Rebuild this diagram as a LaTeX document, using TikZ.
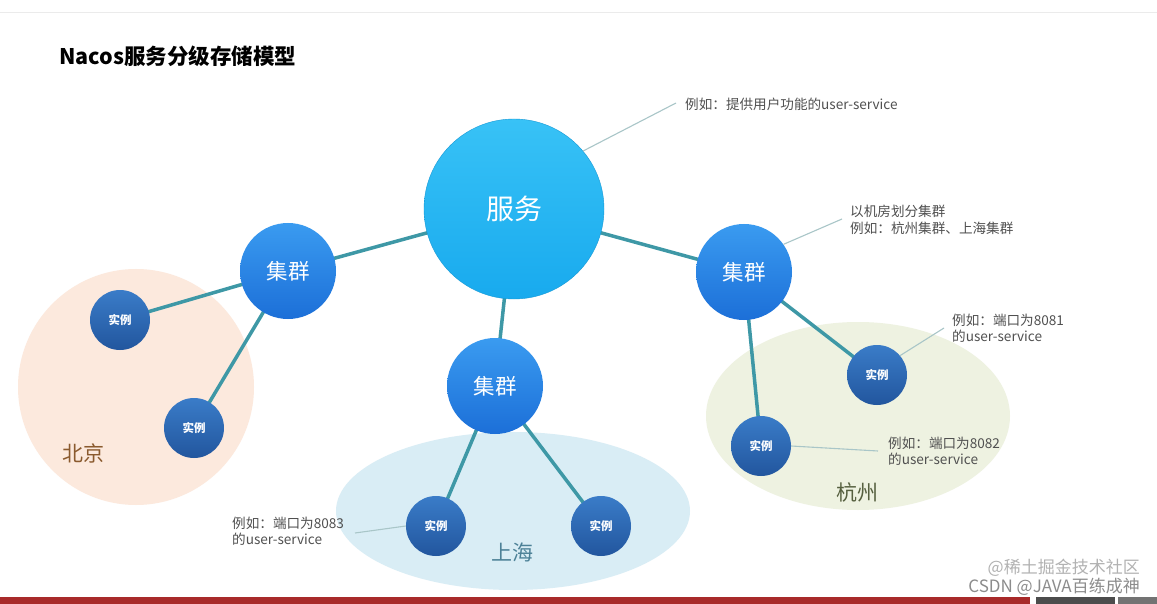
\documentclass[tikz,border=0pt]{standalone}
\usepackage{fontspec}
\setmainfont{Noto Sans CJK SC}
\pgfdeclarelayer{back}
\pgfdeclarelayer{edges}
\pgfsetlayers{back,edges,main}
\definecolor{svcA}{HTML}{38C2F6}
\definecolor{svcB}{HTML}{18AAEE}
\definecolor{cluA}{HTML}{3A9BF0}
\definecolor{cluB}{HTML}{1C6FD8}
\definecolor{insA}{HTML}{3A7CC8}
\definecolor{insB}{HTML}{22569E}
\definecolor{link}{HTML}{3E98A6}
\definecolor{note}{HTML}{A9C6C8}
\definecolor{notetext}{HTML}{505050}
\definecolor{bjfill}{HTML}{FCE9DD}
\definecolor{shfill}{HTML}{D9EDF5}
\definecolor{hzfill}{HTML}{EEF2E1}
\definecolor{bjtext}{HTML}{8A5A2E}
\definecolor{shtext}{HTML}{4C8197}
\definecolor{hztext}{HTML}{56603F}
\definecolor{barred}{HTML}{A82A2A}
\tikzset{
  svc/.style={circle, minimum size=180pt, inner sep=0pt, top color=svcA, bottom color=svcB, draw=svcB!90!black, line width=0.4pt, text=white, font=\fontsize{28}{30}\selectfont},
  clu/.style={circle, minimum size=96pt, inner sep=0pt, top color=cluA, bottom color=cluB, text=white, font=\fontsize{21.5}{23}\selectfont},
  ins/.style={circle, minimum size=60pt, inner sep=0pt, top color=insA, bottom color=insB, text=white, font=\bfseries\fontsize{11.5}{13}\selectfont},
  conn/.style={draw=link, line width=3.5pt},
  noteline/.style={draw=note, line width=1.1pt},
  notetxt/.style={anchor=west, align=left, text=notetext, inner sep=0pt, font=\fontsize{13.6}{16.5}\selectfont},
  region/.style={font=\fontsize{21}{23}\selectfont, inner sep=0pt}
}
\begin{document}
\begin{tikzpicture}[x=1pt,y=-1pt]
\useasboundingbox (0,0) rectangle (1157,604);
\begin{pgfonlayer}{back}
\fill[white] (0,0) rectangle (1157,604);
\draw[black!8, line width=1pt] (0,13) -- (1157,13);
\fill[bjfill] (136,387) circle (118);
\fill[shfill] (513,511) ellipse (177 and 79);
\fill[hzfill] (858,416) ellipse (152 and 94);
\end{pgfonlayer}
% title
\node[anchor=west, inner sep=0pt, font=\bfseries\fontsize{21.5}{23}\selectfont] (title) at (59,56) {Nacos服务分级存储模型};
% region labels
\node[region, text=bjtext] (bj) at (83,453) {北京};
\node[region, text=shtext] (sh) at (512,552) {上海};
\node[region, text=hztext] (hz) at (857,492) {杭州};
% nodes
\node[svc] (s) at (514,209) {服务};
\node[clu] (c1) at (288,271) {集群};
\node[clu] (c2) at (495,386) {集群};
\node[clu] (c3) at (744,272) {集群};
\node[ins] (i1) at (120,320) {实例};
\node[ins] (i2) at (194,428) {实例};
\node[ins] (i3) at (436,526) {实例};
\node[ins] (i4) at (601,526) {实例};
\node[ins] (i5) at (877,375) {实例};
\node[ins] (i6) at (761,446) {实例};
% connectors
\begin{pgfonlayer}{edges}
\draw[conn] (s.center) -- (c1.center);
\draw[conn] (s.center) -- (c2.center);
\draw[conn] (s.center) -- (c3.center);
\draw[conn] (c1.center) -- (i1.center);
\draw[conn] (c1.center) -- (i2.center);
\draw[conn] (c2.center) -- (i3.center);
\draw[conn] (c2.center) -- (i4.center);
\draw[conn] (c3.center) -- (i5.center);
\draw[conn] (c3.center) -- (i6.center);
\end{pgfonlayer}
% annotations
\node[notetxt] (n1) at (685,104) {例如：提供用户功能的user-service};
\node[notetxt] (n2) at (850,220) {以机房划分集群\\例如：杭州集群、上海集群};
\node[notetxt] (n3) at (952,328) {例如：端口为8081\\的user-service};
\node[notetxt] (n4) at (888,451) {例如：端口为8082\\的user-service};
\node[notetxt] (n5) at (232,531) {例如：端口为8083\\的user-service};
\coordinate (a1) at (676,103);
\coordinate (a2) at (842,219);
\coordinate (a3) at (944,328);
\coordinate (a4) at (878,451);
\coordinate (a5) at (355,533);
\draw[noteline] (s.40) -- (a1);
\draw[noteline] (c3.35) -- (a2);
\draw[noteline] (i5.40) -- (a3);
\draw[noteline] (i6.east) -- (a4);
\draw[noteline] (i3.west) -- (a5);
% watermark
\node[anchor=east, inner sep=0pt, text=black!30, font=\fontsize{17}{18}\selectfont] (wm1) at (1140,568) {@稀土掘金技术社区};
\node[anchor=east, inner sep=0pt, text=black!45, font=\fontsize{17}{18}\selectfont] (wm2) at (1140,587) {CSDN @JAVA百练成神};
% bottom bar
\fill[barred] (0,597) rectangle (1030,604);
\fill[black!70] (1036,597) rectangle (1115,604);
\fill[black!55] (1118,597) rectangle (1157,604);
\end{tikzpicture}
\end{document}
